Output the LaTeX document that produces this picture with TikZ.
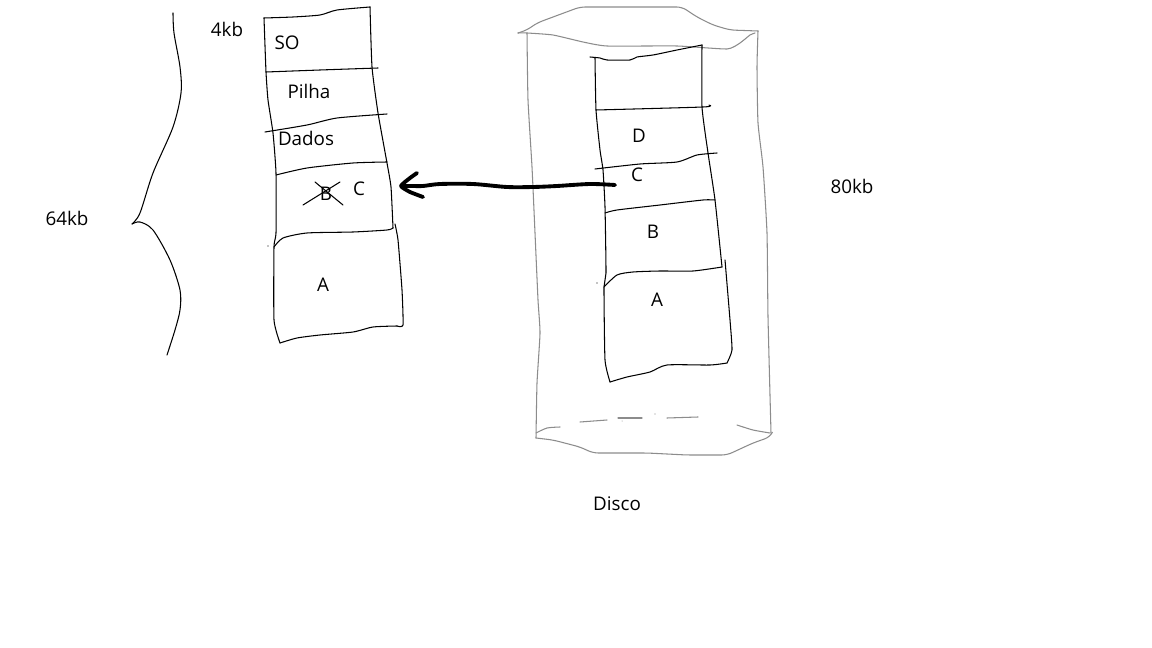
\documentclass[tikz,border=0pt]{standalone}
\usepackage{fontspec}
\setmainfont{Open Sans}
\definecolor{diskgray}{RGB}{140,140,140}
\begin{document}
\begin{tikzpicture}[x=0.02cm,y=-0.02cm,
  hand/.style={line width=0.6pt, black, line join=round, line cap=round},
  diskline/.style={line width=0.6pt, diskgray, line join=round, line cap=round},
  bold/.style={line width=2.2pt, black, line join=round, line cap=round},
  lbl/.style={font=\fontsize{10.7}{12}\selectfont, inner sep=0pt, text=black}]
\useasboundingbox[fill=white] (0,0) rectangle (1152,648);

% left brace
\draw[hand] plot[smooth,tension=0.5] coordinates {(173,13) (174,33) (180,67) (181,93) (173,127) (153,173) (140,213) (132,224)};
\draw[hand] plot[smooth,tension=0.5] coordinates {(132,224) (140,222) (153,230) (170,260) (180,290) (180,310) (175,330) (167,355)};

% memory column outline
\draw[hand] plot[smooth,tension=0.4] coordinates {(264,18) (293,17) (320,15) (337,10) (370,7)};
\draw[hand] plot[smooth,tension=0.3] coordinates {(264,18) (266,72) (268,100) (273,133) (276,173) (276,233) (274,247) (274,320) (280,343)};
\draw[hand] plot[smooth,tension=0.4] coordinates {(280,343) (297,338) (320,335) (353,332) (373,327) (397,326)};
\draw[hand] plot[smooth,tension=0.3] coordinates {(370,7) (372,67) (378,113) (387,163) (391,187) (393,228)};
\draw[hand] plot[smooth,tension=0.3] coordinates {(395,224) (398,240) (402,290) (403,325) (397,326)};
% separators
\draw[hand] plot[smooth,tension=0.4] coordinates {(266,72) (320,70) (378,68)};
\draw[hand] plot[smooth,tension=0.4] coordinates {(265,132) (307,125) (337,118) (387,114)};
\draw[hand] plot[smooth,tension=0.4] coordinates {(276,175) (307,168) (353,163) (387,162)};
\draw[hand] plot[smooth,tension=0.4] coordinates {(274,247) (283,238) (307,233) (353,232) (387,230) (393,228)};
\fill (268,246) circle (0.6);

% memory labels
\node[lbl] (kb4) at (227,29) {4kb};
\node[lbl] (so) at (287,43) {SO};
\node[lbl] (pilha) at (309,91) {Pilha};
\node[lbl] (dados) at (306,138) {Dados};
\node[lbl] (mb) at (326,194) {B};
\node[lbl] (mc) at (359,189) {C};
\node[lbl] (ma) at (323,285) {A};
\node[lbl] (kb64) at (67,218) {64kb};
\draw[hand] (303,205) -- (340,182);
\draw[hand] (315,182) -- (343,205);

% disk cylinder
\draw[diskline, rounded corners=3pt] (518,33) -- (527,30) -- (537,23) -- (553,17) -- (580,7) -- (682,7) -- (697,17) -- (713,25) -- (730,30) -- (758,31);
\draw[diskline] plot[smooth,tension=0.3] coordinates {(518,33) (527,33) (553,35) (583,42) (607,46) (677,46) (727,49) (740,43) (750,35) (755,33)};
\draw[diskline] plot[smooth,tension=0.3] coordinates {(527,33) (528,100) (532,167) (535,233) (538,300) (540,333) (537,383) (536,438)};
\draw[diskline] plot[smooth,tension=0.3] coordinates {(758,31) (757,67) (758,123) (763,167) (767,233) (768,317) (771,433)};
\draw[diskline, rounded corners=3pt] (536,438) -- (553,440) -- (580,447) -- (593,453) -- (647,453) -- (687,455) -- (727,455) -- (753,443) -- (770,437) -- (772,433);
\draw[diskline] plot[smooth,tension=0.4] coordinates {(536,433) (547,428) (560,427)};
\draw[diskline] plot[smooth,tension=0.4] coordinates {(737,425) (753,430) (770,433)};
\draw[diskline] (580,422) -- (607,420);
\draw[diskline] (618,418) -- (642,418);
\draw[diskline] (667,418) -- (698,417);
\fill[diskgray] (655,414) circle (0.6);
\fill[diskgray] (622,421) circle (0.5);

% disk column
\draw[hand] plot[smooth,tension=0.4] coordinates {(590,57) (600,58) (607,60) (630,60) (637,57) (653,55) (677,50) (702,45)};
\draw[hand] plot[smooth,tension=0.3] coordinates {(595,58) (596,110) (600,150) (603,170) (605,207) (606,273) (604,287) (605,360) (610,382)};
\draw[hand] plot[smooth,tension=0.4] coordinates {(610,382) (627,377) (650,372) (667,365) (710,365) (727,363)};
\draw[hand] plot[smooth,tension=0.3] coordinates {(702,45) (702,107) (708,153) (715,200) (722,267)};
\draw[hand] plot[smooth,tension=0.3] coordinates {(725,260) (730,320) (732,350) (727,363)};
\draw[hand] plot[smooth,tension=0.4] coordinates {(596,110) (703,107) (709,105)};
\draw[hand] plot[smooth,tension=0.4] coordinates {(595,169) (640,164) (677,162) (697,155) (717,153)};
\draw[hand] plot[smooth,tension=0.4] coordinates {(605,213) (617,210) (660,205) (703,200) (715,200)};
\draw[hand] plot[smooth,tension=0.4] coordinates {(604,287) (617,275) (633,272) (660,271) (693,271) (722,267)};
\fill (597,283) circle (0.6);

\node[lbl] (dd) at (639,136) {D};
\node[lbl] (dc) at (637,175) {C};
\node[lbl] (db) at (653,232) {B};
\node[lbl] (da) at (657,300) {A};
\node[lbl] (kb80) at (852,186) {80kb};
\node[lbl] (disco) at (617,504) {Disco};

% arrow from disk C to memory C
\coordinate (src) at (615,185);
\coordinate (tip) at (401,186);
\draw[bold] plot[smooth,tension=0.5] coordinates {(src) (590,184) (557,186) (533,187) (507,187) (473,184) (440,184) (423,186) (412,186) (tip)};
\draw[bold] plot[smooth,tension=0.3] coordinates {(417,173) (410,178) (tip) (410,192) (423,197)};
\end{tikzpicture}
\end{document}
